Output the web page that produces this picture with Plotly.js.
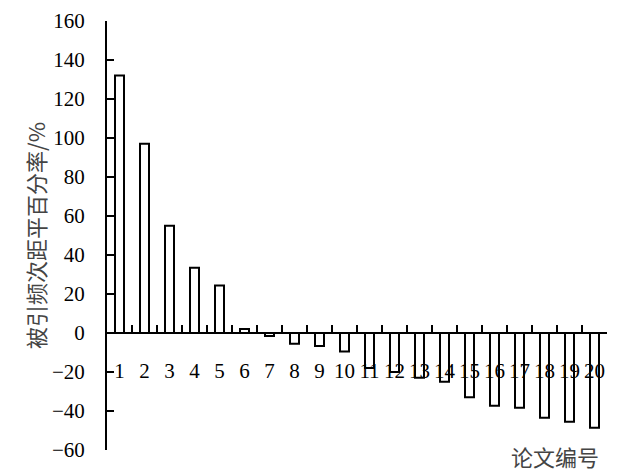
<!DOCTYPE html>
<html>
<head>
<meta charset="utf-8">
<script src="https://cdn.plot.ly/plotly-3.0.1.min.js"></script>
<style>html,body{margin:0;padding:0;background:#fff;}#chart{width:623px;height:476px;}</style>
</head>
<body>
<div id="chart"></div>
<script>
const categories = ["1","2","3","4","5","6","7","8","9","10","11","12","13","14","15","16","17","18","19","20"];
const values = [132, 97, 55, 33.5, 24.3, 2, -1.5, -5.5, -6.7, -9.5, -18, -20, -23, -25, -33, -37.3, -38.3, -43.4, -45.5, -48.6];
const yTickVals = [-60, -40, -20, 0, 20, 40, 60, 80, 100, 120, 140, 160];
const yTitle = "被引频次距平百分率/%";
const xTitle = "论文编号";

const serif = "'Liberation Serif', 'Times New Roman', serif";
const cjk = "'Noto Sans CJK SC', sans-serif";
const yMin = -60, yMax = 160;

const data = [{
  type: "bar",
  x: categories,
  y: values,
  width: 0.36,
  marker: {color: "#ffffff", line: {color: "#000000", width: 2}},
  hoverinfo: "x+y"
}];

const layout = {
  width: 623, height: 476,
  margin: {l: 107, r: 16, t: 21, b: 26},
  paper_bgcolor: "#ffffff", plot_bgcolor: "#ffffff",
  showlegend: false,
  font: {family: serif, color: "#000000", size: 21},
  xaxis: {
    type: "category",
    range: [-0.5, 19.5],
    anchor: "free",
    position: (0 - yMin) / (yMax - yMin),
    showline: true, linecolor: "#000", linewidth: 2,
    ticks: "inside", tickson: "boundaries", ticklen: 7, tickwidth: 2, tickcolor: "#000",
    tickangle: 0,
    ticklabelstandoff: 19,
    showgrid: false, zeroline: false,
    tickfont: {family: serif, size: 21, color: "#000"}
  },
  yaxis: {
    range: [yMin, yMax],
    tickvals: yTickVals,
    showline: true, linecolor: "#000", linewidth: 2,
    ticks: "inside", ticklen: 7, tickwidth: 2, tickcolor: "#000",
    ticklabelstandoff: 16,
    showgrid: false, zeroline: false,
    tickfont: {family: serif, size: 21, color: "#000"},
    title: {text: yTitle, font: {family: cjk, size: 22, color: "#444"}, standoff: 0}
  },
  annotations: [{
    text: xTitle, xref: "paper", yref: "paper",
    x: (601 - 107) / 500, y: (450 - 456) / 429,
    xanchor: "right", yanchor: "middle", showarrow: false,
    font: {family: cjk, size: 22, color: "#444"}
  }]
};

Plotly.newPlot("chart", data, layout, {displayModeBar: false, staticPlot: true});
</script>
</body>
</html>
